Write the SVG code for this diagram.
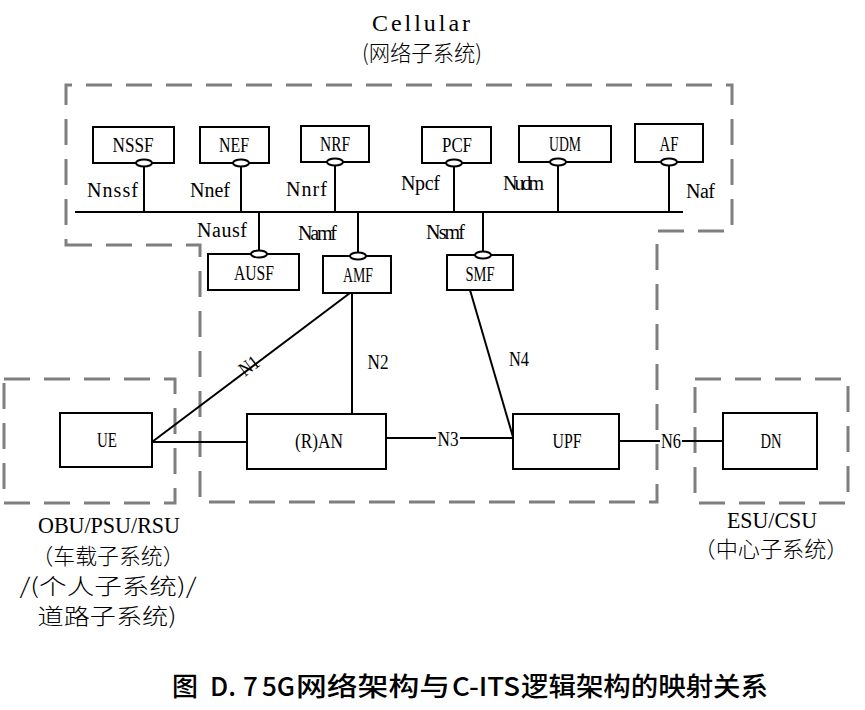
<svg xmlns="http://www.w3.org/2000/svg" width="865" height="710" viewBox="0 0 865 710">
<style>
.bg{fill:#fff}
.dash{fill:none;stroke:#7f7f7f;stroke-width:3;stroke-dasharray:26 14}
.box{fill:#fff;stroke:#000;stroke-width:2}
.ln{fill:none;stroke:#000;stroke-width:2}
.el{fill:#fff;stroke:#000;stroke-width:2}
.t{font-family:"Liberation Serif","Noto Sans CJK SC",serif;font-size:20px;fill:#000;text-anchor:middle}
.s{font-family:"Liberation Serif","Noto Sans CJK SC",serif;font-size:20px;fill:#000;text-anchor:start}
.big{font-family:"Liberation Serif","Noto Sans CJK SC",serif;font-size:24px;fill:#000;text-anchor:middle}
.zh{font-family:"Noto Sans CJK SC",sans-serif;font-size:22px;font-weight:300;fill:#000;text-anchor:middle}
.cap{font-family:"Noto Sans CJK SC",sans-serif;font-size:26px;font-weight:500;fill:#000}
</style>
<rect class="bg" x="0" y="0" width="865" height="710"/>

<g id="boundaries">
<path class="dash" d="M66,245 H200 V502 H657 V231 H732 V85 H66 Z"/>
<rect class="dash" x="4" y="379" width="171" height="124"/>
<rect class="dash" x="695" y="379" width="153" height="124"/>
</g>

<g id="connectors">
<line class="ln" x1="75" y1="212" x2="683" y2="212"/>
<line class="ln" x1="144" y1="163" x2="144" y2="212"/>
<line class="ln" x1="241" y1="163" x2="241" y2="212"/>
<line class="ln" x1="335" y1="162" x2="335" y2="212"/>
<line class="ln" x1="454" y1="163" x2="454" y2="212"/>
<line class="ln" x1="558" y1="162" x2="558" y2="212"/>
<line class="ln" x1="669" y1="162" x2="669" y2="212"/>
<line class="ln" x1="259" y1="212" x2="259" y2="254"/>
<line class="ln" x1="358" y1="212" x2="358" y2="256"/>
<line class="ln" x1="483" y1="212" x2="483" y2="255"/>
<line class="ln" x1="152" y1="442" x2="350" y2="293"/>
<line class="ln" x1="352" y1="293" x2="352" y2="414"/>
<line class="ln" x1="152" y1="442" x2="247" y2="442"/>
<line class="ln" x1="386" y1="438" x2="513" y2="438"/>
<line class="ln" x1="470" y1="290" x2="513" y2="437"/>
<line class="ln" x1="619" y1="441" x2="723" y2="441"/>
<rect class="bg" x="436" y="428" width="24" height="20"/>
<rect class="bg" x="660" y="431" width="22" height="20"/>
<text class="t" x="448" y="446" textLength="21" lengthAdjust="spacingAndGlyphs">N3</text>
<text class="t" x="671" y="448" textLength="20" lengthAdjust="spacingAndGlyphs">N6</text>
<text class="t" transform="translate(253,371) rotate(-37)" textLength="20" lengthAdjust="spacingAndGlyphs">N1</text>
<text class="t" x="378" y="369" textLength="21" lengthAdjust="spacingAndGlyphs">N2</text>
<text class="t" x="519" y="366" textLength="20" lengthAdjust="spacingAndGlyphs">N4</text>
<text class="s" x="87" y="197" textLength="51" lengthAdjust="spacing">Nnssf</text>
<text class="s" x="190" y="197" textLength="40" lengthAdjust="spacing">Nnef</text>
<text class="s" x="286" y="196" textLength="41" lengthAdjust="spacing">Nnrf</text>
<text class="s" x="401" y="190" textLength="39" lengthAdjust="spacing">Npcf</text>
<text class="s" x="503" y="190" textLength="41" lengthAdjust="spacing">Nudm</text>
<text class="s" x="686" y="198" textLength="29" lengthAdjust="spacing">Naf</text>
<text class="s" x="197" y="237" textLength="50" lengthAdjust="spacing">Nausf</text>
<text class="s" x="298" y="240" textLength="39" lengthAdjust="spacing">Namf</text>
<text class="s" x="426" y="239" textLength="39" lengthAdjust="spacing">Nsmf</text>
</g>

<g id="NSSF"><rect class="box" x="93" y="127" width="81" height="36"/><ellipse class="el" cx="144" cy="163" rx="8" ry="3.5"/><text class="t" x="133" y="152" textLength="41" lengthAdjust="spacingAndGlyphs">NSSF</text></g>
<g id="NEF"><rect class="box" x="200" y="127" width="69" height="36"/><ellipse class="el" cx="241" cy="163" rx="8" ry="3.5"/><text class="t" x="234" y="152" textLength="30" lengthAdjust="spacingAndGlyphs">NEF</text></g>
<g id="NRF"><rect class="box" x="301" y="126" width="68" height="36"/><ellipse class="el" cx="335" cy="162" rx="8" ry="3.5"/><text class="t" x="335" y="151" textLength="30" lengthAdjust="spacingAndGlyphs">NRF</text></g>
<g id="PCF"><rect class="box" x="422" y="127" width="69" height="36"/><ellipse class="el" cx="454" cy="163" rx="8" ry="3.5"/><text class="t" x="457" y="152" textLength="30" lengthAdjust="spacingAndGlyphs">PCF</text></g>
<g id="UDM"><rect class="box" x="519" y="126" width="92" height="36"/><ellipse class="el" cx="558" cy="162" rx="8" ry="3.5"/><text class="t" x="565" y="151" textLength="32" lengthAdjust="spacingAndGlyphs">UDM</text></g>
<g id="AF"><rect class="box" x="635" y="124" width="68" height="38"/><ellipse class="el" cx="669" cy="162" rx="8" ry="3.5"/><text class="t" x="669" y="151" textLength="19" lengthAdjust="spacingAndGlyphs">AF</text></g>
<g id="AUSF"><rect class="box" x="208" y="254" width="91" height="36"/><ellipse class="el" cx="259" cy="254" rx="8" ry="3.5"/><text class="t" x="254" y="280" textLength="40" lengthAdjust="spacingAndGlyphs">AUSF</text></g>
<g id="AMF"><rect class="box" x="323" y="256" width="68" height="37"/><ellipse class="el" cx="358" cy="256" rx="8" ry="3.5"/><text class="t" x="358" y="282" textLength="30" lengthAdjust="spacingAndGlyphs">AMF</text></g>
<g id="SMF"><rect class="box" x="447" y="255" width="66" height="35"/><ellipse class="el" cx="483" cy="255" rx="8" ry="3.5"/><text class="t" x="480" y="281" textLength="29" lengthAdjust="spacingAndGlyphs">SMF</text></g>
<g id="UE"><rect class="box" x="60" y="413" width="92" height="54"/><text class="t" x="107" y="447" textLength="20" lengthAdjust="spacingAndGlyphs">UE</text></g>
<g id="RAN"><rect class="box" x="247" y="414" width="139" height="55"/><text class="t" x="319" y="448" textLength="48" lengthAdjust="spacingAndGlyphs">(R)AN</text></g>
<g id="UPF"><rect class="box" x="513" y="414" width="106" height="55"/><text class="t" x="567" y="448" textLength="29" lengthAdjust="spacingAndGlyphs">UPF</text></g>
<g id="DN"><rect class="box" x="723" y="413" width="94" height="56"/><text class="t" x="771" y="448" textLength="21" lengthAdjust="spacingAndGlyphs">DN</text></g>

<g id="labels">
<text class="big" x="421" y="31" textLength="98" lengthAdjust="spacing">Cellular</text>
<text class="zh" x="422" y="61" textLength="120" lengthAdjust="spacingAndGlyphs">(网络子系统)</text>
<text class="big" x="109" y="533" textLength="142" lengthAdjust="spacingAndGlyphs">OBU/PSU/RSU</text>
<text class="zh" x="108" y="564" textLength="153" lengthAdjust="spacingAndGlyphs">（车载子系统）</text>
<text class="zh" x="108" y="594" textLength="177" lengthAdjust="spacingAndGlyphs">/(个人子系统)/</text>
<text class="zh" x="107" y="624" textLength="139" lengthAdjust="spacingAndGlyphs">道路子系统)</text>
<text class="big" x="772" y="528" textLength="90" lengthAdjust="spacingAndGlyphs">ESU/CSU</text>
<text class="zh" x="771" y="557" textLength="155" lengthAdjust="spacingAndGlyphs">（中心子系统）</text>
<text class="cap" y="696"><tspan x="172">图</tspan><tspan x="210">D.</tspan><tspan x="243">7</tspan><tspan x="262">5G</tspan><tspan x="296" textLength="154" lengthAdjust="spacingAndGlyphs">网络架构与</tspan><tspan x="452" textLength="68" lengthAdjust="spacingAndGlyphs">C-ITS</tspan><tspan x="521" textLength="247" lengthAdjust="spacingAndGlyphs">逻辑架构的映射关系</tspan></text>
</g>
</svg>
